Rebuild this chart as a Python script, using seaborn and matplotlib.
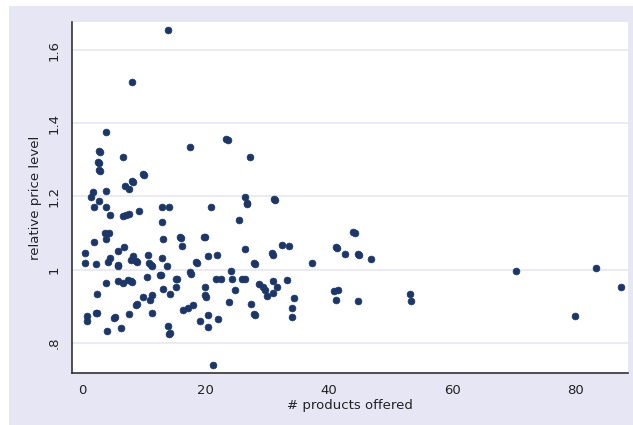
import matplotlib
matplotlib.use("Agg")
import matplotlib.pyplot as plt
import matplotlib.patches as mpatches
import seaborn as sns
import pandas as pd

# number of products offered (x) and relative price level (y)
products = [
    14.0, 8.1, 3.9, 23.4, 23.6, 17.6, 2.8, 3.0, 6.6, 27.2, 2.6, 2.7, 2.8, 2.9,
    9.9, 10.0, 8.1, 8.3, 7.0, 7.6, 3.9, 1.8, 1.4, 2.8, 26.4, 31.1, 31.3, 26.7,
    26.8, 1.9, 3.9, 13.0, 14.1, 20.9, 9.3, 4.5, 6.6, 7.1, 7.6, 25.5, 13.0,
    3.8, 4.4, 44.0, 44.2, 3.9, 13.2, 15.9, 16.0, 20.0, 19.8, 1.9, 6.9, 16.2,
    32.4, 33.6, 41.2, 41.3, 5.8, 26.4, 0.5, 42.7, 44.7, 44.9, 30.8, 30.9,
    10.7, 20.4, 21.9, 4.6, 8.3, 46.9, 13.0, 7.9, 8.8, 18.5, 18.6, 37.3, 27.9,
    28.0, 0.5, 2.3, 4.2, 9.0, 5.8, 5.9, 10.8, 11.2, 11.4, 13.8, 70.4, 83.3,
    24.1, 10.6, 12.6, 12.8, 15.2, 15.4, 17.6, 17.7, 21.8, 22.6, 24.3, 25.9,
    26.4, 33.2, 31.0, 3.9, 5.8, 6.6, 7.4, 8.0, 8.2, 28.7, 29.3, 29.7, 30.0,
    31.7, 19.9, 15.2, 13.1, 87.3, 24.8, 40.8, 41.5, 31.0, 14.2, 2.5, 53.1,
    20.0, 20.1, 9.9, 11.3, 11.0, 34.4, 41.2, 44.7, 53.3, 23.9, 27.4, 8.8, 9.0,
    18.0, 17.2, 16.4, 34.0, 0.85, 2.5, 2.3, 7.6, 11.3, 27.9, 28.0, 20.4, 79.9,
    0.85, 5.2, 5.4, 34.1, 22.1, 19.1, 20.5, 6.4, 14.0, 4.0, 14.1, 14.3, 21.3,
]
price_level = [
    1.654, 1.513, 1.376, 1.357, 1.353, 1.336, 1.324, 1.321, 1.309, 1.308,
    1.294, 1.290, 1.273, 1.270, 1.262, 1.259, 1.243, 1.240, 1.229, 1.220,
    1.216, 1.211, 1.199, 1.187, 1.199, 1.194, 1.191, 1.182, 1.179, 1.171,
    1.170, 1.171, 1.172, 1.171, 1.161, 1.149, 1.147, 1.148, 1.151, 1.135,
    1.131, 1.101, 1.099, 1.103, 1.100, 1.083, 1.083, 1.089, 1.087, 1.088,
    1.090, 1.074, 1.062, 1.064, 1.067, 1.064, 1.061, 1.059, 1.050, 1.055,
    1.046, 1.042, 1.043, 1.041, 1.044, 1.041, 1.041, 1.037, 1.040, 1.032,
    1.036, 1.030, 1.032, 1.026, 1.024, 1.021, 1.019, 1.019, 1.019, 1.016,
    1.019, 1.015, 1.021, 1.020, 1.013, 1.011, 1.017, 1.013, 1.011, 1.011,
    0.995, 1.003, 0.995, 0.980, 0.984, 0.986, 0.975, 0.973, 0.992, 0.989,
    0.975, 0.973, 0.973, 0.974, 0.975, 0.972, 0.969, 0.963, 0.968, 0.963,
    0.970, 0.969, 0.967, 0.961, 0.952, 0.943, 0.927, 0.952, 0.952, 0.952,
    0.948, 0.951, 0.943, 0.940, 0.945, 0.937, 0.933, 0.934, 0.934, 0.929,
    0.926, 0.924, 0.929, 0.917, 0.923, 0.917, 0.913, 0.913, 0.911, 0.906,
    0.902, 0.905, 0.902, 0.895, 0.888, 0.895, 0.874, 0.880, 0.882, 0.879,
    0.880, 0.879, 0.877, 0.877, 0.873, 0.860, 0.868, 0.870, 0.870, 0.866,
    0.858, 0.844, 0.839, 0.846, 0.833, 0.825, 0.827, 0.739,
]

x_ticks = [0, 20, 40, 60, 80]
y_ticks = [0.8, 1.0, 1.2, 1.4, 1.6]
y_tick_labels = [".8", "1", "1.2", "1.4", "1.6"]

df = pd.DataFrame({"products": products, "price": price_level})

sns.set_style("white")
plt.rcParams["font.family"] = ["DejaVu Sans"]

navy = "#1c3767"
lavender = "#e6e6f5"

fig = plt.figure(figsize=(6.33, 4.25), dpi=100, facecolor="white")
# graph region (lavender band with thin white outer margin)
band = mpatches.Rectangle((9 / 633, 0), 1, 1 - 6 / 425, transform=fig.transFigure,
                          facecolor=lavender, edgecolor="none", zorder=-10)
fig.add_artist(band)

ax = fig.add_axes([72 / 633, 1 - 373 / 425, 556 / 633, 351 / 425])
ax.set_zorder(1)
ax.set_facecolor("white")

sns.scatterplot(data=df, x="products", y="price", ax=ax, color=navy,
                s=24, marker="o", edgecolor=navy, linewidth=0.5, zorder=3)

ax.set_xlim(-1.6, 88.5)
ax.set_ylim(0.717, 1.677)
ax.set_xticks(x_ticks)
ax.set_yticks(y_ticks)
ax.set_yticklabels(y_tick_labels, rotation=90, va="center")
ax.tick_params(axis="both", direction="out", length=4, width=1, colors="#333333",
               labelcolor="#222222", labelsize=9.5, pad=4)
ax.yaxis.grid(True, color="#eaeaf5", linewidth=1.4)
ax.xaxis.grid(False)
ax.set_axisbelow(True)

for side in ["top", "right"]:
    ax.spines[side].set_visible(False)
for side in ["left", "bottom"]:
    ax.spines[side].set_color("#333333")
    ax.spines[side].set_linewidth(1.2)

ax.set_xlabel("# products offered", fontsize=9.5, color="#222222", labelpad=1)
ax.set_ylabel("relative price level", fontsize=9.5, color="#222222", labelpad=4)

fig.savefig("out.png", dpi=100, facecolor=fig.get_facecolor())
